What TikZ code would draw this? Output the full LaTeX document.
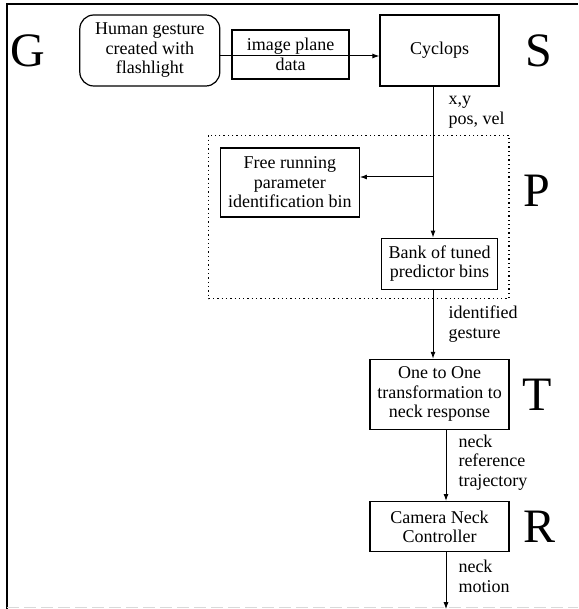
\documentclass[tikz,border=0pt]{standalone}
\usepackage{fontspec}
\setmainfont{Liberation Serif}
\usepackage{tikz}
\usetikzlibrary{positioning, arrows.meta, calc}
\newcommand{\boxfont}{\fontsize{18}{19.5}\selectfont}
\newcommand{\letterfont}{\fontsize{48}{50}\selectfont}

\begin{document}
\begin{tikzpicture}[
    box/.style={draw, rectangle, align=center, line width=1.2pt, inner sep=1pt, font=\boxfont},
    rbox/.style={box, rounded corners=14pt},
    letter/.style={inner sep=0pt, font=\letterfont},
    lbl/.style={right, align=left, inner sep=0pt, xshift=15pt, font=\boxfont},
    arrow/.style={arrows = {-{Latex[length=7pt, width=5pt]}}, line width=1pt}]
\useasboundingbox (0,0) rectangle (578pt,-609pt);

% frame
\draw[line width=1.4pt] (7pt,-609pt) -- (7pt,-4pt) -- (578pt,-4pt);
\draw[gray!30, line width=1pt, dash pattern=on 12pt off 5pt] (7pt,-607pt) -- (578pt,-607pt);

\node[box, minimum width=119pt, minimum height=71pt] (cyc) at (439.5pt,-50.5pt) {Cyclops};
\node[rbox, left=159pt of cyc, minimum width=140pt, minimum height=71pt] (hum) {Human gesture\\created with\\flashlight};
\node[box, right=11pt of hum, yshift=-4pt, minimum width=117pt, minimum height=49pt] (img) {image plane\\data};
\node[box, below=151pt of cyc, minimum width=116pt, minimum height=51pt] (bank) {Bank of tuned\\predictor bins};
\node[box, above left=20pt and 21pt of bank, minimum width=139pt, minimum height=69pt] (free) {Free running\\parameter\\identification bin};
\node[box, below=69pt of bank, minimum width=139pt, minimum height=70pt] (one) {One to One\\transformation to\\neck response};
\node[box, below=71pt of one, minimum width=139pt, minimum height=50pt] (cam) {Camera Neck\\Controller};
\coordinate[below=57pt of cam, xshift=6.5pt] (out);

% letters
\node[letter, left=34pt of hum] (G) {G};
\node[letter, right=26pt of cyc] (S) {S};
\node[letter] (P) at (537pt,-191pt) {P};
\node[letter, right=13pt of one] (T) {T};
\node[letter, right=14pt of cam] (R) {R};

% predictor group
\draw[line width=1.3pt, dash pattern=on 1.3pt off 3pt] ($(free.north west)+(-11pt,12pt)$) rectangle ($(bank.south east)+(11pt,-9pt)$);

\path ([xshift=-6.5pt]cyc.south) coordinate (stem);
\path (free.east) ++(0,5.5pt) coordinate (freein);
\coordinate (split) at (stem |- freein);

\draw[arrow] ([yshift=-5.5pt]hum.east) -- ([yshift=-5.5pt]cyc.west);
\draw[arrow] (stem) -- node[lbl, pos=.17] {x,y\\pos, vel} (stem |- bank.north);
\draw[arrow] (split) -- (freein);
\draw[arrow] ([xshift=-6.5pt]bank.south) -- node[lbl] {identified\\gesture} ([xshift=-6.5pt]one.north);
\draw[arrow] ([xshift=6.5pt]one.south) -- node[lbl, pos=.46, xshift=-3pt] {neck\\reference\\trajectory} ([xshift=6.5pt]cam.north);
\draw[arrow] ([xshift=6.5pt]cam.south) -- node[lbl, pos=.42, xshift=-3pt] {neck\\motion} (out);
\end{tikzpicture}
\end{document}
